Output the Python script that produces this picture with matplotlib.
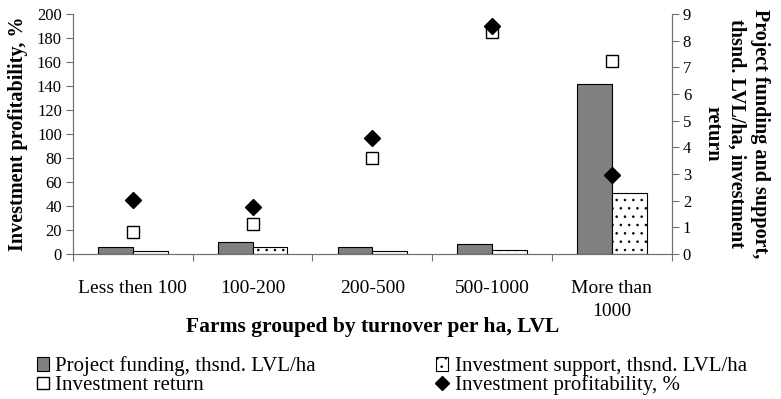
import numpy as np
import matplotlib
matplotlib.use("Agg")
import matplotlib.pyplot as plt
from matplotlib.lines import Line2D
from matplotlib.patches import Patch

plt.rcParams['font.family'] = ['Liberation Serif', 'DejaVu Serif']
plt.rcParams['hatch.linewidth'] = 0.6

groups = ["Less then 100", "100-200", "200-500", "500-1000", "More than\n1000"]
funding = [0.25, 0.45, 0.25, 0.36, 6.39]        # thsnd. LVL/ha
support = [0.10, 0.25, 0.10, 0.15, 2.30]        # thsnd. LVL/ha
inv_return = [0.84, 1.12, 3.59, 8.31, 7.24]
profitability = [45, 39.5, 97, 190, 66]         # %

x = np.arange(len(groups))
w = 0.29

fig = plt.figure(figsize=(7.81, 3.99), dpi=100)
ax = fig.add_axes([0.0935, 0.3634, 0.7665, 0.6016])
ax2 = ax.twinx()

ax2.bar(x - w / 2, funding, w, color='#808080', edgecolor='black', linewidth=0.8)
ax2.bar(x + w / 2, support, w, color='white', edgecolor='black', linewidth=0.8,
        hatch='..')
ax2.plot(x, inv_return, 's', ms=9, mfc='white', mec='black', mew=1.0, ls='none')
ax.plot(x, profitability, 'D', ms=8, color='black', ls='none')

ax.set_zorder(ax2.get_zorder() + 1)
ax.patch.set_visible(False)

ax.set_xlim(-0.5, 4.5)
ax.set_ylim(0, 200)
ax.set_yticks(np.arange(0, 201, 20))
ax2.set_ylim(0, 9)
ax2.set_yticks(np.arange(0, 10, 1))

ax.set_xticks(np.arange(-0.5, 4.6, 1))
ax.set_xticklabels([])
ax.set_xticks(x, minor=True)
ax.set_xticklabels(groups, minor=True, fontsize=14, linespacing=1.45, va='top')
ax.tick_params(axis='x', which='major', direction='out', length=5, width=0.8)
ax.tick_params(axis='x', which='minor', length=0, pad=19)
ax.tick_params(axis='y', direction='out', length=5, width=0.8, labelsize=12, pad=3)
ax2.tick_params(axis='y', direction='out', length=5, width=0.8, labelsize=12, pad=3)

for a in (ax, ax2):
    a.spines['top'].set_visible(False)
    for s in ('left', 'right', 'bottom'):
        a.spines[s].set_color('#707070')
        a.spines[s].set_linewidth(0.8)
    a.tick_params(colors='#707070', labelcolor='black', which='both')

ax.set_ylabel("Investment profitability, %", fontsize=14.5, fontweight='bold',
              va='center', ha='center')
ax.yaxis.set_label_coords(-0.092, 0.5)
ax2.set_ylabel("Project funding and support,\nthsnd. LVL/ha, investment\nreturn",
               fontsize=14.5, fontweight='bold', rotation=270, linespacing=1.25,
               va='center', ha='center')
ax2.yaxis.set_label_coords(1.108, 0.5)
ax.set_xlabel("Farms grouped by turnover per ha, LVL", fontsize=15.5,
              fontweight='bold', va='center')
ax.xaxis.set_label_coords(0.5, -0.305)

handles = [
    Patch(facecolor='#808080', edgecolor='black', linewidth=0.8),
    Line2D([], [], marker='s', ms=9, mfc='white', mec='black', ls='none'),
    Patch(facecolor='white', edgecolor='black', linewidth=0.8, hatch='..'),
    Line2D([], [], marker='D', ms=7, color='black', ls='none'),
]
labels = ["Project funding, thsnd. LVL/ha", "Investment return",
          "Investment support, thsnd. LVL/ha", "Investment profitability, %"]
fig.legend(handles, labels, loc='lower left', bbox_to_anchor=(0.031, -0.022), ncol=2,
           frameon=False, fontsize=15, handlelength=0.6, handleheight=0.7,
           handletextpad=0.3, columnspacing=5.75, labelspacing=-0.05, borderpad=0.1)

fig.savefig("out.png", dpi=100)
